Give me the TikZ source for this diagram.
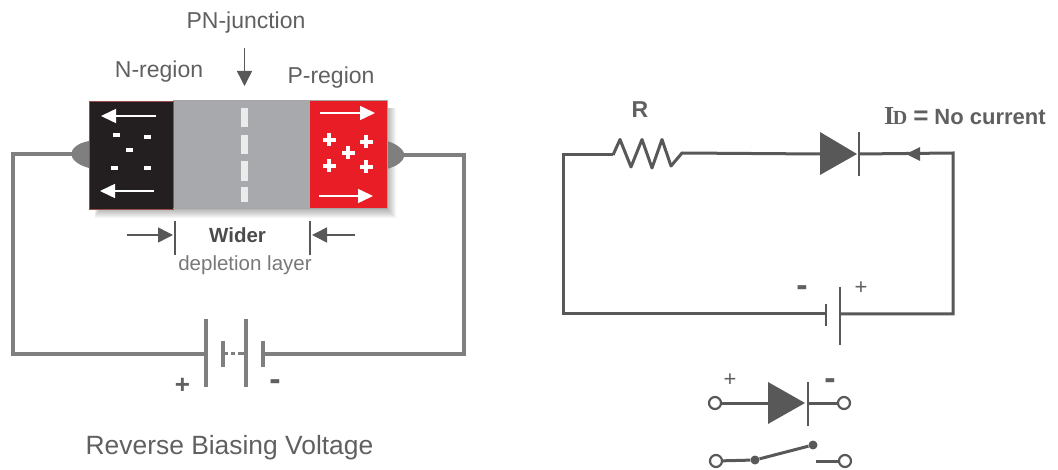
\documentclass[tikz,border=0pt]{standalone}
\usepackage{fontspec}
\setmainfont{Liberation Sans}
\newfontfamily\serifid{Liberation Serif}
\usetikzlibrary{arrows.meta}
\definecolor{wireL}{HTML}{7F7F7F}
\definecolor{wireR}{HTML}{585858}
\definecolor{txt}{HTML}{606060}
\definecolor{greyband}{HTML}{A7A9AC}
\definecolor{redband}{HTML}{E91D25}
\definecolor{blackband}{HTML}{231F20}
\tikzset{
  wl/.style={draw=wireL,line width=4pt,line join=miter},
  wr/.style={draw=wireR,line width=3pt,line join=miter},
  plate/.style={draw=wireL,line width=4pt},
  plater/.style={draw=wireR,line width=2.4pt},
  lbl/.style={inner sep=0pt,anchor=base,text=txt,font=\fontsize{23}{23}\selectfont},
  minus/.style={inner sep=0pt,text=txt,font=\fontsize{34}{34}\selectfont\bfseries},
  plusb/.style={inner sep=0pt,text=txt,font=\fontsize{26}{26}\selectfont\bfseries},
  plusr/.style={inner sep=0pt,text=txt,font=\fontsize{22}{22}\selectfont},
  wa/.style={draw=white,line width=1.5pt,-{Triangle[length=15pt,width=14pt,fill=white]}},
  da/.style={draw=wireR,line width=1.5pt,-{Triangle[length=15pt,width=15pt,fill=wireR]}},
  term/.style={circle,draw=wireR,line width=2.2pt,fill=white,minimum size=12pt,inner sep=0pt},
  dot/.style={circle,fill=wireR,minimum size=9pt,inner sep=0pt},
  dashbar/.style={fill=white!92!black},
}
\begin{document}
\begin{tikzpicture}[x=1pt,y=-1pt]
\useasboundingbox (0,0) rectangle (1058,470);
% ---- left: PN block
\foreach \d in {1,...,9}
  \fill[black,opacity=.035] (100-\d*.6,108) rectangle (387+\d,209+\d);
\fill[wireL] (89,141) .. controls (78,143) and (72,148) .. (71,154) .. controls (72,160) and (78,165) .. (89,168) -- cycle;
\fill[wireL] (387,141) .. controls (397,144) and (403,149) .. (405,155) .. controls (403,162) and (397,166) .. (387,169) -- cycle;
\fill[greyband] (173,101) rectangle (310,209);
\fill[blackband] (89,101) rectangle (173,209);
\draw[draw=black!55!red!70!white,line width=.7pt] (89,101) rectangle (173,209);
\fill[redband] (310,101) rectangle (387,209);
\draw[draw=black!35,line width=1pt] (173,101) -- (387,101) -- (387,209) -- (173,209);
\foreach \a/\b in {108/127,135/154,161/181,187/202}
  \fill[dashbar] (241,\a) rectangle (248,\b);
% arrows inside
\coordinate (na1) at (156,116); \coordinate (na2) at (101,116);
\coordinate (nb1) at (154,191); \coordinate (nb2) at (100,191);
\coordinate (pa1) at (320,113); \coordinate (pa2) at (375,113);
\coordinate (pb1) at (319,196); \coordinate (pb2) at (373,196);
\draw[wa] (na1) -- (na2);
\draw[wa] (nb1) -- (nb2);
\draw[wa] (pa1) -- (pa2);
\draw[wa] (pb1) -- (pb2);
% carriers
\foreach \x/\y in {116/135,147/137,129/150,114/168,147/168}
  \fill[white] (\x-3.5,\y-1.6) rectangle (\x+3.5,\y+1.6);
\foreach \x/\y in {329/140,366/142,348/153,329/166,366/167}{
  \fill[white] (\x-6.5,\y-1.6) rectangle (\x+6.5,\y+1.6);
  \fill[white] (\x-1.6,\y-6.5) rectangle (\x+1.6,\y+6.5);
}
% labels
\node[lbl] (pn) at (246,29) {PN-junction};
\node[lbl] (nr) at (159,78) {N-region};
\node[lbl] (pr) at (331,84) {P-region};
\coordinate (pnA) at (244.5,48); \coordinate (pnB) at (244.5,86);
\draw[da] (pnA) -- (pnB);
% depletion
\coordinate (dlL) at (175,221); \coordinate (dlLb) at (175,255);
\coordinate (dlR) at (310,221); \coordinate (dlRb) at (310,255);
\draw[draw=wireR,line width=1.6pt] (dlL) -- (dlLb);
\draw[draw=wireR,line width=1.6pt] (dlR) -- (dlRb);
\coordinate (dla) at (127,235); \coordinate (dlb) at (173,235);
\coordinate (dra) at (355,235); \coordinate (drb) at (312,235);
\draw[da] (dla) -- (dlb);
\draw[da] (dra) -- (drb);
\node[inner sep=0pt,anchor=base,text=black!70,font=\fontsize{20.5}{20.5}\selectfont\bfseries] (wider) at (237.5,243) {Wider};
\node[inner sep=0pt,anchor=base,text=txt!85,font=\fontsize{20.5}{20.5}\selectfont] (depl) at (245,271) {depletion layer};
% left circuit
\coordinate (ll) at (72,154); \coordinate (lc) at (13,154); \coordinate (lb) at (13,354); \coordinate (b1) at (206,354);
\coordinate (rr) at (403,155); \coordinate (rc) at (464,155); \coordinate (rb) at (464,354); \coordinate (b4) at (263,354);
\draw[wl] (ll) -- (lc) -- (lb) -- (b1);
\draw[wl] (rr) -- (rc) -- (rb) -- (b4);
\draw[plate] (206,319) -- (206,387);
\draw[plate] (223,341) -- (223,367);
\draw[plate] (246,319) -- (246,387);
\draw[plate] (263,341) -- (263,367);
\draw[draw=wireL,line width=3pt] (223,354) -- (228,354);
\draw[draw=wireL,line width=3pt] (231,354) -- (235,354);
\draw[draw=wireL,line width=3pt] (238,354) -- (246,354);
\node[plusb] (plusL) at (182.5,386) {+};
\node[minus] (minusL) at (275,385) {-};
\node[inner sep=0pt,anchor=base,text=txt,font=\fontsize{26.4}{26.4}\selectfont] (title) at (229.5,454) {Reverse Biasing Voltage};
% ---- right circuit
\coordinate (c1) at (563,155);
\coordinate (r1) at (613,155);
\coordinate (r2) at (682,153);
\coordinate (dA) at (820,154);
\coordinate (dK) at (859,154);
\coordinate (c2) at (953,153);
\coordinate (c3) at (953,314);
\coordinate (bp) at (840,314);
\coordinate (bn) at (826,314);
\coordinate (c4) at (563,314);
\draw[wr] (r1) -- (c1) -- (c4) -- (bn);
\draw[wr] (dK) -- (c2) -- (c3) -- (bp);
\draw[wr,line join=round] (r1) -- (620,139.5) -- (631,167) -- (642,139.5) -- (652,168) -- (662,139.5) -- (671,166) -- (682,153) -- (dA);
\fill[wireR] (820,132) -- (857,154) -- (820,175) -- cycle;
\draw[plater] (859,132) -- (859,176);
\fill[wireR] (906,154) -- (920,147) -- (920,161) -- cycle;
\draw[plater] (826,304) -- (826,326);
\draw[draw=wireR,line width=2.6pt] (840,287) -- (840,345);
\node[inner sep=0pt,anchor=base,text=txt,font=\fontsize{23}{23}\selectfont\bfseries] (R) at (640,118) {R};
\node[inner sep=0pt,anchor=base west,text=txt,font=\fontsize{22}{22}\selectfont\bfseries] (id) at (884,125) {{\serifid\fontsize{26}{26}\selectfont I\kern-1.5pt\fontsize{20}{20}\selectfont D}\kern6pt{\fontsize{26}{26}\selectfont =}\kern6pt No current};
\node[minus] (mR) at (802,291) {-};
\node[plusr] (pR) at (861,288) {+};
% ---- small diode
\node[term] (t1) at (715,403) {};
\node[term] (t2) at (844,403) {};
\coordinate (sA) at (768,403); \coordinate (sK) at (807,403);
\draw[wr] (t1) -- (sA);
\draw[wr] (sK) -- (t2);
\fill[wireR] (768,382) -- (805,403) -- (768,424) -- cycle;
\draw[plater] (808,382) -- (808,426);
\node[plusr] (pS) at (730,380) {+};
\node[minus] (mS) at (830,384) {-};
% ---- switch
\node[term] (t3) at (716,461) {};
\node[term] (t4) at (845,461) {};
\node[dot] (s1) at (755,460) {};
\node[dot] (s2) at (813,445) {};
\coordinate (s3) at (816,461);
\draw[wr] (t3) -- (s1);
\draw[wr] (s1) -- (s2);
\draw[wr] (s3) -- (t4);
\end{tikzpicture}
\end{document}
